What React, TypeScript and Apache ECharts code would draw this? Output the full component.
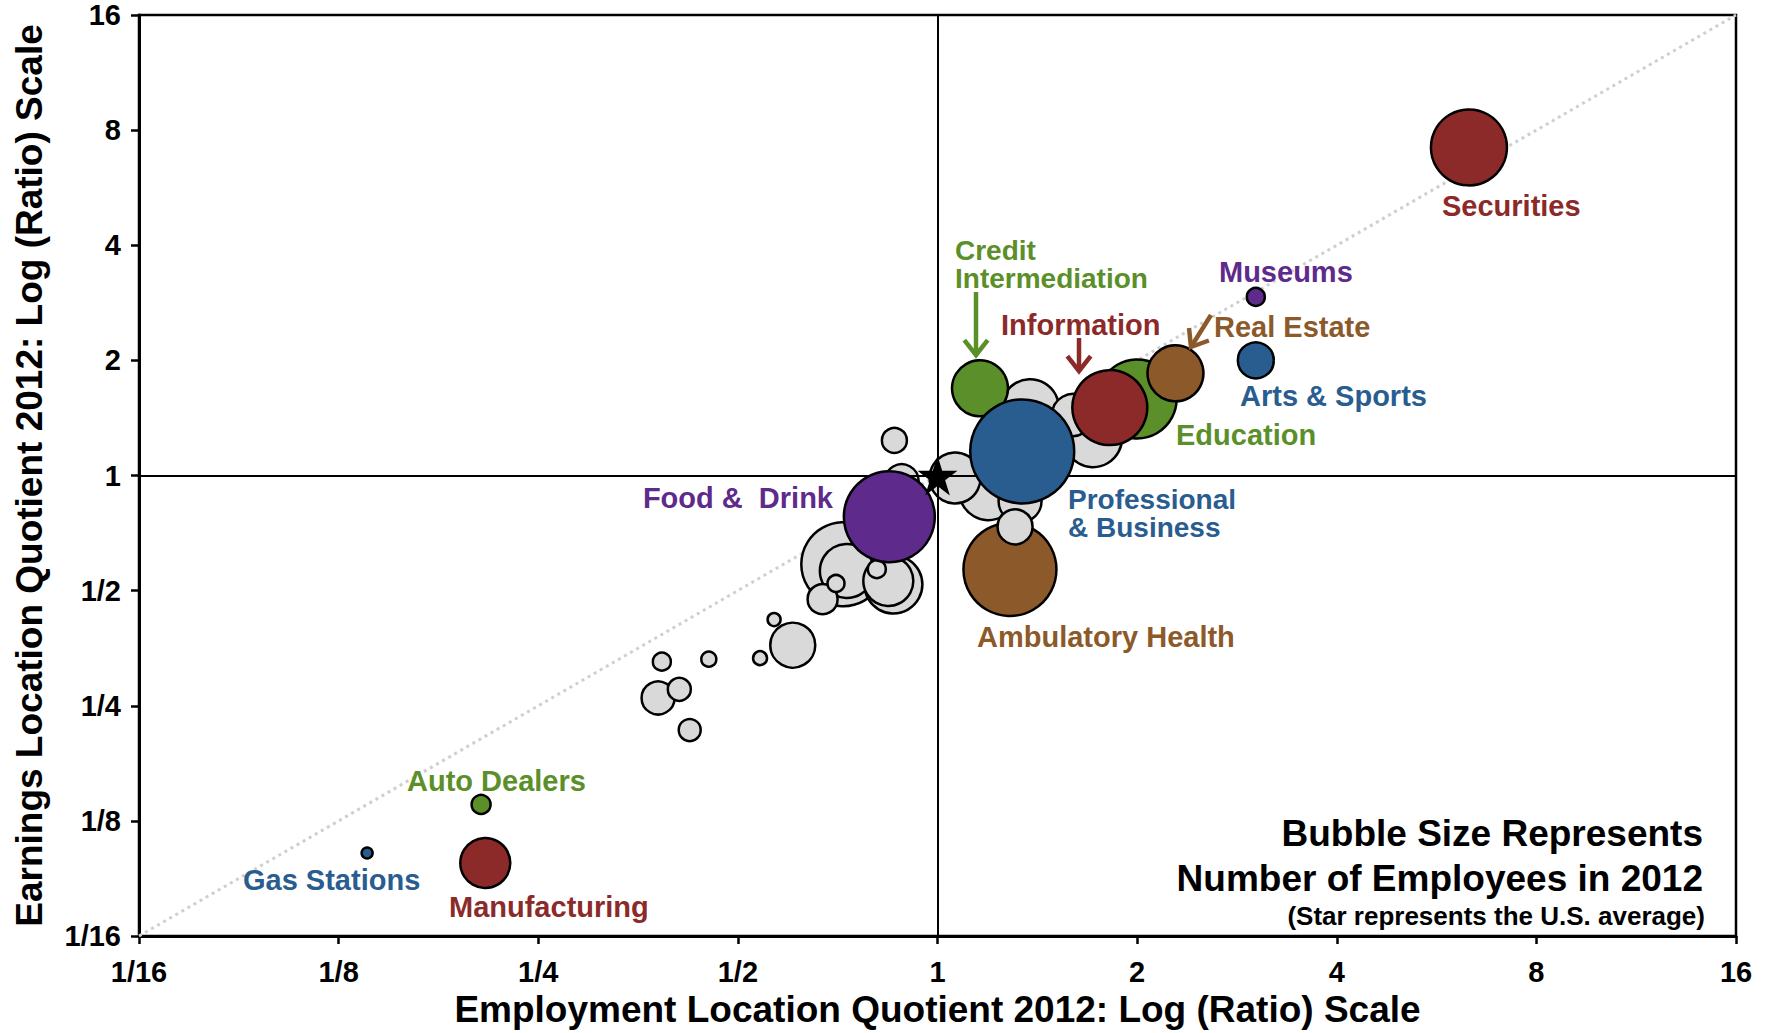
import React, { useEffect, useRef } from "react";
import * as echarts from "echarts";

// ---------- DATA ----------
const tickValues = [1 / 16, 1 / 8, 1 / 4, 1 / 2, 1, 2, 4, 8, 16];
const tickLabels = ["1/16", "1/8", "1/4", "1/2", "1", "2", "4", "8", "16"];

const industryNames = [
  "Ambulatory Health",
  "Education",
  "Credit Intermediation",
  "Professional & Business",
  "Information",
  "Real Estate",
  "Food & Drink",
  "Securities",
  "Museums",
  "Arts & Sports",
  "Auto Dealers",
  "Manufacturing",
  "Gas Stations",
];
const industryEmpLQ = [1.286, 2.0, 1.159, 1.342, 1.819, 2.285, 0.846, 6.33, 3.02, 3.02, 0.205, 0.208, 0.138];
const industryEarnLQ = [0.568, 1.585, 1.69, 1.156, 1.505, 1.85, 0.78, 7.21, 2.93, 2.0, 0.138, 0.097, 0.103];
const industryBubble = [93, 79, 56, 104, 75, 56, 91, 76, 18, 36, 19, 50, 11];
const industryColor = [
  "#8C5A2A", "#5B8F29", "#5B8F29", "#2A5D8F", "#8C2A2A", "#8C5A2A", "#5E2A8C",
  "#8C2A2A", "#5E2A8C", "#2A5D8F", "#5B8F29", "#8C2A2A", "#2A5D8F",
];
const drawnBehindOthers = ["Ambulatory Health"];

const otherEmpLQ = [
  0.861, 0.883, 0.721, 0.73, 0.703, 0.671, 0.81, 0.843, 0.858, 0.567, 0.605, 0.384,
  0.452, 0.54, 0.379, 0.408, 0.423, 1.063, 1.193, 1.332, 1.309, 1.379, 1.601, 1.716,
];
const otherEarnLQ = [
  1.235, 0.966, 0.586, 0.563, 0.522, 0.475, 0.569, 0.53, 0.519, 0.42, 0.36, 0.326,
  0.331, 0.333, 0.262, 0.276, 0.216, 0.985, 0.91, 0.858, 0.734, 1.499, 1.44, 1.252,
];
const otherBubble = [
  25, 34, 84, 54, 17, 30, 18, 50, 58, 13, 45, 18, 15, 14, 33, 23, 22, 51, 58, 43, 35, 58, 42, 58,
];

const usAverage = [1, 1];

// ---------- STYLE ----------
const FONT = "'Liberation Sans', Arial, Helvetica, sans-serif";
const GRAY = "#D9D9D9";

type LabelSpec = { text: string; x: number; y: number; color: string; align?: string; size?: number };
const labelSpecs: LabelSpec[] = [
  { text: "Securities", x: 1442, y: 206, color: "#8C2A2A" },
  { text: "Museums", x: 1219, y: 272, color: "#5E2A8C" },
  { text: "Real Estate", x: 1214, y: 327, color: "#8C5A2A" },
  { text: "Arts & Sports", x: 1240, y: 396, color: "#2A5D8F" },
  { text: "Education", x: 1176, y: 435, color: "#5B8F29" },
  { text: "Information", x: 1001, y: 325, color: "#8C2A2A" },
  { text: "Credit", x: 955, y: 250, color: "#5B8F29", size: 28 },
  { text: "Intermediation", x: 955, y: 278, color: "#5B8F29", size: 28 },
  { text: "Professional", x: 1068, y: 499, color: "#2A5D8F", size: 28 },
  { text: "& Business", x: 1068, y: 527, color: "#2A5D8F", size: 28 },
  { text: "Ambulatory Health", x: 977, y: 637, color: "#8C5A2A" },
  { text: "Food &  Drink", x: 833, y: 498, color: "#5E2A8C", align: "right" },
  { text: "Auto Dealers", x: 407, y: 781, color: "#5B8F29" },
  { text: "Gas Stations", x: 243, y: 880, color: "#2A5D8F" },
  { text: "Manufacturing", x: 449, y: 907, color: "#8C2A2A" },
];

function arrow(x1: number, y1: number, x2: number, y2: number, color: string) {
  const dx = x2 - x1;
  const dy = y2 - y1;
  const len = Math.sqrt(dx * dx + dy * dy);
  const ux = dx / len;
  const uy = dy / len;
  const L = 19;
  const a = (38 * Math.PI) / 180;
  const rot = (ang: number) => [
    x2 - L * (ux * Math.cos(ang) - uy * Math.sin(ang)),
    y2 - L * (ux * Math.sin(ang) + uy * Math.cos(ang)),
  ];
  const p1 = rot(a);
  const p2 = rot(-a);
  return [
    {
      type: "line",
      shape: { x1, y1, x2: x2 - ux * 3, y2: y2 - uy * 3 },
      style: { stroke: color, lineWidth: 4.5 },
      z: 50,
    },
    {
      type: "polyline",
      shape: { points: [p1, [x2, y2], p2] },
      style: { stroke: color, lineWidth: 4.5, fill: null, lineJoin: "miter" },
      z: 50,
    },
  ];
}

function fmtTick(v: number) {
  for (let i = 0; i < tickValues.length; i++) {
    if (Math.abs(Math.log2(v) - Math.log2(tickValues[i])) < 1e-6) return tickLabels[i];
  }
  return "";
}

const STAR =
  "path://M50,0 L61.2,34.5 L97.6,34.5 L68.2,55.9 L79.4,90.5 L50,69.1 L20.6,90.5 L31.8,55.9 L2.4,34.5 L38.8,34.5 Z";

export default function App() {
  const ref = useRef<HTMLDivElement>(null);

  useEffect(() => {
    if (!ref.current) return;
    const chart = echarts.init(ref.current, null, { renderer: "svg" });

    const mkItem = (i: number) => ({
      name: industryNames[i],
      value: [industryEmpLQ[i], industryEarnLQ[i]],
      symbolSize: industryBubble[i],
      itemStyle: { color: industryColor[i] },
    });
    const backIdx = industryNames.map((_, i) => i).filter((i) => drawnBehindOthers.includes(industryNames[i]));
    const frontIdx = industryNames.map((_, i) => i).filter((i) => !drawnBehindOthers.includes(industryNames[i]));

    const grayOrder = otherBubble.map((_, i) => i).sort((a, b) => otherBubble[b] - otherBubble[a]);
    const grayData = grayOrder.map((i) => ({
      value: [otherEmpLQ[i], otherEarnLQ[i]],
      symbolSize: otherBubble[i],
    }));

    const axisCommon = {
      type: "log",
      logBase: 2,
      min: tickValues[0],
      max: tickValues[tickValues.length - 1],
      interval: 1,
      splitLine: { show: false },
      axisLine: { show: true, lineStyle: { color: "#000", width: 3 } },
      axisTick: { show: true, inside: false, length: 8, lineStyle: { color: "#000", width: 2.5 } },
      axisLabel: {
        formatter: fmtTick,
        fontFamily: FONT,
        fontWeight: "bold",
        fontSize: 29,
        color: "#000",
        interval: 0,
        showMinLabel: true,
        showMaxLabel: true,
      },
      nameLocation: "middle",
      nameTextStyle: { fontFamily: FONT, fontWeight: "bold", fontSize: 37, color: "#000" },
    };

    const graphics: any[] = [];
    labelSpecs.forEach((s) => {
      graphics.push({
        type: "text",
        x: s.x,
        y: s.y,
        z: 60,
        style: {
          text: s.text,
          fill: s.color,
          font: `bold ${s.size || 29}px ${FONT}`,
          textAlign: s.align || "left",
          textVerticalAlign: "middle",
        },
      });
    });
    graphics.push(...arrow(976, 292, 976, 355, "#5B8F29"));
    graphics.push(...arrow(1079, 338, 1079, 371, "#8C2A2A"));
    graphics.push(...arrow(1211, 315, 1191, 347, "#8C5A2A"));
    graphics.push({
      type: "text",
      x: 1703,
      y: 833,
      z: 60,
      style: { text: "Bubble Size Represents", fill: "#000", font: `bold 37px ${FONT}`, textAlign: "right", textVerticalAlign: "middle" },
    });
    graphics.push({
      type: "text",
      x: 1703,
      y: 878,
      z: 60,
      style: { text: "Number of Employees in 2012", fill: "#000", font: `bold 37px ${FONT}`, textAlign: "right", textVerticalAlign: "middle" },
    });
    graphics.push({
      type: "text",
      x: 1705,
      y: 916,
      z: 60,
      style: { text: "(Star represents the U.S. average)", fill: "#000", font: `bold 26px ${FONT}`, textAlign: "right", textVerticalAlign: "middle" },
    });

    const option: any = {
      animation: false,
      backgroundColor: "#fff",
      grid: {
        left: 139,
        right: 41,
        top: 15,
        bottom: 93,
        show: true,
        borderColor: "#000",
        borderWidth: 2.5,
        backgroundColor: "transparent",
      },
      xAxis: {
        ...axisCommon,
        name: "Employment Location Quotient 2012: Log (Ratio) Scale",
        nameGap: 55,
        axisLabel: { ...axisCommon.axisLabel, margin: 21 },
      },
      yAxis: {
        ...axisCommon,
        name: "Earnings Location Quotient 2012: Log (Ratio) Scale",
        nameGap: 91,
        axisLabel: { ...axisCommon.axisLabel, margin: 18 },
      },
      series: [
        {
          type: "line",
          data: [
            [tickValues[0], tickValues[0]],
            [tickValues[tickValues.length - 1], tickValues[tickValues.length - 1]],
          ],
          symbol: "none",
          z: 1,
          silent: true,
          lineStyle: { color: "#CFCFCF", width: 3, type: [3, 4] },
          markLine: {
            silent: true,
            symbol: "none",
            label: { show: false },
            lineStyle: { color: "#000", width: 2, type: "solid" },
            data: [{ xAxis: 1 }, { yAxis: 1 }],
          },
        },
        {
          type: "scatter",
          z: 3,
          data: backIdx.map(mkItem),
          itemStyle: { borderColor: "#000", borderWidth: 2.5, opacity: 1 },
        },
        {
          type: "scatter",
          z: 4,
          data: grayData,
          itemStyle: { color: GRAY, borderColor: "#000", borderWidth: 2.5, opacity: 1 },
        },
        {
          type: "scatter",
          z: 5,
          data: frontIdx.map(mkItem),
          itemStyle: { borderColor: "#000", borderWidth: 2.5, opacity: 1 },
        },
        {
          type: "scatter",
          z: 6,
          symbol: STAR,
          symbolSize: 40,
          data: [usAverage],
          itemStyle: { color: "#000", opacity: 1 },
        },
      ],
      graphic: graphics,
    };

    chart.setOption(option);
    return () => chart.dispose();
  }, []);

  return (
    <div
      ref={ref}
      style={{ position: "absolute", left: 0, top: 0, width: 1777, height: 1033, background: "#fff" }}
    />
  );
}
